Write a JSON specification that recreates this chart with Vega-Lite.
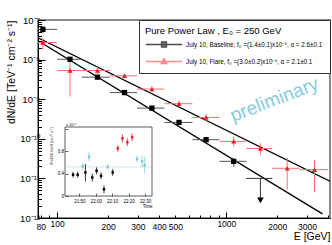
{
  "$schema": "https://vega.github.io/schema/vega-lite/v6.json",
  "width": 292,
  "height": 198,
  "autosize": {"type": "none"},
  "padding": {"left": 38, "top": 20, "right": 2, "bottom": 27},
  "background": "white",
  "config": {
    "view": {"stroke": "#8c8c8c", "strokeWidth": 2},
    "font": "Liberation Sans",
    "axis": {"grid": false, "labelColor": "black", "tickColor": "black", "domainColor": "black", "titleColor": "black", "titleFontWeight": "normal", "labelOverlap": false, "labelFlush": false},
    "legend": {"orient": "top-right", "offset": 0, "titleFontSize": 9.5, "titleFontWeight": "normal", "titleColor": "black", "labelFontSize": 6.3, "labelColor": "black", "symbolSize": 64, "symbolStrokeWidth": 1.5, "strokeColor": "#333333", "fillColor": "white", "padding": 6, "labelOffset": 31, "labelLimit": 400, "titlePadding": 4, "rowPadding": 5}
  },
  "datasets": {
    "fit": [
      {"k": "base", "E": 77, "F": 2.99e-8},
      {"k": "base", "E": 3700, "F": 1.27e-12},
      {"k": "flare", "E": 77, "F": 3.56e-8},
      {"k": "flare", "E": 4100, "F": 8.5e-12}
    ],
    "pts": [
      {"k": "base", "s": "July 10, Baseline, f₀ =(1.4±0.1)x10⁻⁹,  α = 2.6±0.1", "E": 82.3, "lo": 75, "hi": 100, "F": 5.8e-8, "Flo": 4.7e-8, "Fhi": 6.9e-8},
      {"k": "base", "s": "July 10, Baseline, f₀ =(1.4±0.1)x10⁻⁹,  α = 2.6±0.1", "E": 119, "lo": 100, "hi": 140, "F": 1.02e-8, "Flo": 0.92e-8, "Fhi": 1.12e-8},
      {"k": "base", "s": "July 10, Baseline, f₀ =(1.4±0.1)x10⁻⁹,  α = 2.6±0.1", "E": 173, "lo": 140, "hi": 205, "F": 3.6e-9, "Flo": 3.25e-9, "Fhi": 3.95e-9},
      {"k": "base", "s": "July 10, Baseline, f₀ =(1.4±0.1)x10⁻⁹,  α = 2.6±0.1", "E": 250, "lo": 205, "hi": 297, "F": 1.47e-9, "Flo": 1.36e-9, "Fhi": 1.58e-9},
      {"k": "base", "s": "July 10, Baseline, f₀ =(1.4±0.1)x10⁻⁹,  α = 2.6±0.1", "E": 363, "lo": 297, "hi": 430, "F": 5.96e-10, "Flo": 5.4e-10, "Fhi": 6.5e-10},
      {"k": "base", "s": "July 10, Baseline, f₀ =(1.4±0.1)x10⁻⁹,  α = 2.6±0.1", "E": 525, "lo": 430, "hi": 630, "F": 2.59e-10, "Flo": 2.3e-10, "Fhi": 2.9e-10},
      {"k": "base", "s": "July 10, Baseline, f₀ =(1.4±0.1)x10⁻⁹,  α = 2.6±0.1", "E": 759, "lo": 630, "hi": 910, "F": 9.5e-11, "Flo": 8.2e-11, "Fhi": 1.08e-10},
      {"k": "base", "s": "July 10, Baseline, f₀ =(1.4±0.1)x10⁻⁹,  α = 2.6±0.1", "E": 1105, "lo": 910, "hi": 1310, "F": 2.7e-11, "Flo": 1.95e-11, "Fhi": 3.2e-11},
      {"k": "flare", "s": "July 10, Flare,  f₀ =(3.0±0.2)x10⁻⁹,  α = 2.1±0.1", "E": 82.3, "lo": 75, "hi": 100, "F": 2.7e-8, "Flo": 1.75e-8, "Fhi": 3.6e-8},
      {"k": "flare", "s": "July 10, Flare,  f₀ =(3.0±0.2)x10⁻⁹,  α = 2.1±0.1", "E": 119, "lo": 100, "hi": 140, "F": 5.3e-9, "Flo": 1.17e-9, "Fhi": 8.9e-9},
      {"k": "flare", "s": "July 10, Flare,  f₀ =(3.0±0.2)x10⁻⁹,  α = 2.1±0.1", "E": 173, "lo": 140, "hi": 205, "F": 5.3e-9, "Flo": 4.3e-9, "Fhi": 6.5e-9},
      {"k": "flare", "s": "July 10, Flare,  f₀ =(3.0±0.2)x10⁻⁹,  α = 2.1±0.1", "E": 250, "lo": 205, "hi": 297, "F": 3.9e-9, "Flo": 3.4e-9, "Fhi": 4.4e-9},
      {"k": "flare", "s": "July 10, Flare,  f₀ =(3.0±0.2)x10⁻⁹,  α = 2.1±0.1", "E": 363, "lo": 297, "hi": 430, "F": 1.8e-9, "Flo": 1.5e-9, "Fhi": 2.15e-9},
      {"k": "flare", "s": "July 10, Flare,  f₀ =(3.0±0.2)x10⁻⁹,  α = 2.1±0.1", "E": 525, "lo": 430, "hi": 630, "F": 7.7e-10, "Flo": 6.4e-10, "Fhi": 9.2e-10},
      {"k": "flare", "s": "July 10, Flare,  f₀ =(3.0±0.2)x10⁻⁹,  α = 2.1±0.1", "E": 759, "lo": 630, "hi": 910, "F": 3.46e-10, "Flo": 2.8e-10, "Fhi": 4.3e-10},
      {"k": "flare", "s": "July 10, Flare,  f₀ =(3.0±0.2)x10⁻⁹,  α = 2.1±0.1", "E": 1105, "lo": 910, "hi": 1310, "F": 8.6e-11, "Flo": 6.4e-11, "Fhi": 1.13e-10},
      {"k": "flare", "s": "July 10, Flare,  f₀ =(3.0±0.2)x10⁻⁹,  α = 2.1±0.1", "E": 1590, "lo": 1310, "hi": 1870, "F": 5.7e-11, "Flo": 4.0e-11, "Fhi": 7.8e-11},
      {"k": "flare", "s": "July 10, Flare,  f₀ =(3.0±0.2)x10⁻⁹,  α = 2.1±0.1", "E": 2290, "lo": 1870, "hi": 2700, "F": 1.8e-11, "Flo": 5.2e-12, "Fhi": 3.3e-11},
      {"k": "flare", "s": "July 10, Flare,  f₀ =(3.0±0.2)x10⁻⁹,  α = 2.1±0.1", "E": 3320, "lo": 2700, "hi": 4000, "F": 1.66e-11, "Flo": 4.5e-12, "Fhi": 2.86e-11}
    ],
    "ul": [
      {"E": 1590, "lo": 1310, "hi": 1870, "F": 1e-11, "Fend": 3.2e-12, "Fhead": 2.8e-12}
    ],
    "inset": [
      {"g": "pre", "t": 46.2, "v": 0.38, "lo": 0.33, "hi": 0.43},
      {"g": "pre", "t": 49.0, "v": 0.38, "lo": 0.33, "hi": 0.43},
      {"g": "pre", "t": 53.7, "v": 0.42, "lo": 0.26, "hi": 0.57},
      {"g": "pre", "t": 57.9, "v": 0.33, "lo": 0.26, "hi": 0.40},
      {"g": "pre", "t": 60.5, "v": 0.45, "lo": 0.39, "hi": 0.51},
      {"g": "pre", "t": 63.2, "v": 0.36, "lo": 0.30, "hi": 0.42},
      {"g": "pre", "t": 65.0, "v": 0.12, "lo": 0.05, "hi": 0.19},
      {"g": "pre", "t": 70.3, "v": 0.42, "lo": 0.36, "hi": 0.48},
      {"g": "other", "t": 52.1, "v": 0.53, "lo": 0.47, "hi": 0.59},
      {"g": "other", "t": 55.9, "v": 0.70, "lo": 0.62, "hi": 0.78},
      {"g": "other", "t": 67.3, "v": 0.52, "lo": 0.47, "hi": 0.57},
      {"g": "other", "t": 85.1, "v": 0.66, "lo": 0.60, "hi": 0.72},
      {"g": "other", "t": 88.2, "v": 0.62, "lo": 0.52, "hi": 0.72},
      {"g": "other", "t": 89.8, "v": 0.55, "lo": 0.40, "hi": 0.70},
      {"g": "flare", "t": 73.4, "v": 0.85, "lo": 0.79, "hi": 0.91},
      {"g": "flare", "t": 76.2, "v": 1.03, "lo": 0.96, "hi": 1.10},
      {"g": "flare", "t": 79.2, "v": 0.96, "lo": 0.89, "hi": 1.03},
      {"g": "flare", "t": 82.1, "v": 1.05, "lo": 0.98, "hi": 1.12}
    ],
    "mean": [{"t0": 41.3, "t1": 94.2, "m": 0.52}]
  },
  "layer": [
    {
      "layer": [
        {
          "data": {"name": "fit"},
          "mark": {"type": "line", "strokeWidth": 1.3, "color": "black", "clip": true},
          "encoding": {
            "x": {"field": "E", "type": "quantitative", "scale": {"type": "log", "domain": [77, 4100], "nice": false},
              "axis": {"orient": "bottom", "values": [80, 90, 100, 200, 300, 400, 500, 600, 700, 800, 900, 1000, 2000, 3000, 4000],
                "labelExpr": "indexof([80,100,200,300,400,500,1000,2000,3000], datum.value) >= 0 ? format(datum.value, 'd') : ''",
                "tickSize": {"condition": {"test": "datum.value == 100 || datum.value == 1000", "value": -6}, "value": -3},
                "labelFontSize": 8.5, "labelPadding": 7, "title": "E [GeV]", "titleAnchor": "end", "titleFontSize": 10.5, "titlePadding": 1}},
            "y": {"field": "F", "type": "quantitative", "scale": {"type": "log", "domain": [1e-12, 1e-7], "nice": false},
              "axis": {"orient": "left",
                "values": [1e-12, 2e-12, 3e-12, 4e-12, 5e-12, 6e-12, 7e-12, 8e-12, 9e-12, 1e-11, 2e-11, 3e-11, 4e-11, 5e-11, 6e-11, 7e-11, 8e-11, 9e-11, 1e-10, 2e-10, 3e-10, 4e-10, 5e-10, 6e-10, 7e-10, 8e-10, 9e-10, 1e-9, 2e-9, 3e-9, 4e-9, 5e-9, 6e-9, 7e-9, 8e-9, 9e-9, 1e-8, 2e-8, 3e-8, 4e-8, 5e-8, 6e-8, 7e-8, 8e-8, 9e-8, 1e-7],
                "labelExpr": "datum.value == 1e-7 ? '10⁻⁷' : datum.value == 1e-8 ? '10⁻⁸' : datum.value == 1e-9 ? '10⁻⁹' : datum.value == 1e-10 ? '10⁻¹⁰' : datum.value == 1e-11 ? '10⁻¹¹' : datum.value == 1e-12 ? '10⁻¹²' : ''",
                "tickSize": {"condition": {"test": "indexof([1e-12,1e-11,1e-10,1e-9,1e-8,1e-7], datum.value) >= 0", "value": -7}, "value": -3.5},
                "labelFontSize": 9.5, "labelPadding": 5.5, "title": "dN/dE [TeV⁻¹ cm⁻² s⁻¹]", "titleAnchor": "end", "titleFontSize": 10.5, "titlePadding": 3}},
            "detail": {"field": "k", "type": "nominal"}
          }
        },
        {
          "data": {"name": "pts"},
          "mark": {"type": "rule", "strokeWidth": 1, "clip": true},
          "encoding": {
            "x": {"field": "lo", "type": "quantitative"},
            "x2": {"field": "hi"},
            "y": {"field": "F", "type": "quantitative"},
            "color": {"field": "k", "type": "nominal", "scale": {"domain": ["base", "flare"], "range": ["#555555", "#ff7070"]}, "legend": null}
          }
        },
        {
          "data": {"name": "pts"},
          "mark": {"type": "rule", "strokeWidth": 1, "clip": true},
          "encoding": {
            "x": {"field": "E", "type": "quantitative"},
            "y": {"field": "Flo", "type": "quantitative"},
            "y2": {"field": "Fhi"},
            "color": {"field": "k", "type": "nominal", "legend": null}
          }
        },
        {
          "data": {"name": "pts"},
          "transform": [{"filter": "datum.k == 'base'"}],
          "mark": {"type": "point", "shape": "square", "filled": true, "size": 28, "color": "black", "opacity": 1},
          "encoding": {"x": {"field": "E", "type": "quantitative"}, "y": {"field": "F", "type": "quantitative"}}
        },
        {
          "data": {"name": "pts"},
          "transform": [{"filter": "datum.k == 'flare'"}],
          "mark": {"type": "point", "shape": "triangle-up", "filled": true, "size": 26, "color": "#ee1c24", "opacity": 1},
          "encoding": {"x": {"field": "E", "type": "quantitative"}, "y": {"field": "F", "type": "quantitative"}}
        },
        {
          "data": {"name": "pts"},
          "transform": [{"filter": "false"}],
          "mark": {"type": "point", "filled": true},
          "encoding": {
            "x": {"field": "E", "type": "quantitative"},
            "y": {"field": "F", "type": "quantitative"},
            "shape": {"field": "s", "type": "nominal",
              "scale": {"domain": ["July 10, Baseline, f₀ =(1.4±0.1)x10⁻⁹,  α = 2.6±0.1", "July 10, Flare,  f₀ =(3.0±0.2)x10⁻⁹,  α = 2.1±0.1"], "range": ["M-1,0H8M2.9,-0.6H4.1V0.6H2.9Z", "M-1,0H8M3.5,-0.7L4.2,0.5H2.8Z"]},
              "legend": {"title": "Pure Power Law ,  E₀ = 250 GeV"}},
            "fill": {"field": "s", "type": "nominal",
              "scale": {"domain": ["July 10, Baseline, f₀ =(1.4±0.1)x10⁻⁹,  α = 2.6±0.1", "July 10, Flare,  f₀ =(3.0±0.2)x10⁻⁹,  α = 2.1±0.1"], "range": ["#000000", "#ee1c24"]},
              "legend": {"title": "Pure Power Law ,  E₀ = 250 GeV"}},
            "stroke": {"field": "s", "type": "nominal",
              "scale": {"domain": ["July 10, Baseline, f₀ =(1.4±0.1)x10⁻⁹,  α = 2.6±0.1", "July 10, Flare,  f₀ =(3.0±0.2)x10⁻⁹,  α = 2.1±0.1"], "range": ["#000000", "#ff5a5a"]},
              "legend": {"title": "Pure Power Law ,  E₀ = 250 GeV"}}
          }
        },
        {
          "data": {"name": "ul"},
          "mark": {"type": "rule", "color": "#333333", "strokeWidth": 1},
          "encoding": {"x": {"field": "lo", "type": "quantitative"}, "x2": {"field": "hi"}, "y": {"field": "F", "type": "quantitative"}}
        },
        {
          "data": {"name": "ul"},
          "mark": {"type": "rule", "color": "#333333", "strokeWidth": 1},
          "encoding": {"x": {"field": "E", "type": "quantitative"}, "y": {"field": "F", "type": "quantitative"}, "y2": {"field": "Fend"}}
        },
        {
          "data": {"name": "ul"},
          "mark": {"type": "point", "shape": "triangle-down", "filled": true, "color": "black", "size": 45, "opacity": 1},
          "encoding": {"x": {"field": "E", "type": "quantitative"}, "y": {"field": "Fhead", "type": "quantitative"}}
        },
        {
          "data": {"values": [{"label": "preliminary"}]},
          "mark": {"type": "text", "angle": -21, "fontSize": 19, "color": "#86cbd9", "align": "center", "baseline": "middle"},
          "encoding": {"x": {"datum": 1923, "type": "quantitative"}, "y": {"datum": 9.7e-10, "type": "quantitative"}, "text": {"field": "label"}}
        }
      ]
    },
    {
      "layer": [
        {
          "data": {"values": [{}]},
          "mark": {"type": "rect", "filled": false, "stroke": "#333333", "strokeWidth": 0.8},
          "encoding": {
            "x": {"datum": 41.3, "type": "quantitative", "scale": {"domain": [41.3, 94.2], "range": [27, 114], "zero": false, "nice": false},
              "axis": {"orient": "bottom", "offset": -22, "values": [50, 60, 70, 80, 90],
                "labelExpr": "datum.value == 50 ? '21:50' : datum.value == 60 ? '22:00' : datum.value == 70 ? '22:10' : datum.value == 80 ? '22:20' : '22:30'",
                "tickSize": -3,
                "labelOverlap": false, "tickWidth": 0.6, "domain": false, "labelFontSize": 4.5, "labelPadding": 5.5, "title": "Time", "titleFontSize": 4.5, "titleAnchor": "end", "titlePadding": 0.5}},
            "x2": {"datum": 94.2},
            "y": {"datum": 0, "type": "quantitative", "scale": {"domain": [0, 1.232], "range": [176, 107], "zero": false, "nice": false},
              "axis": {"orient": "left", "offset": -27, "values": [0, 0.1, 0.2, 0.3, 0.4, 0.5, 0.6, 0.7, 0.8, 0.9, 1.0, 1.1, 1.2],
                "labelExpr": "datum.value == 0 ? '0' : (datum.value < 1.1 && round(datum.value * 10) % 2 == 0 ? format(datum.value, '.1f') : '')",
                "tickSize": {"condition": {"test": "round(datum.value * 10) % 2 == 0", "value": -3}, "value": -1.5},
                "labelOverlap": false, "tickWidth": 0.6, "domain": false, "labelFontSize": 4.5, "labelPadding": 4.5, "title": "F>200 GeV [cm⁻² s⁻¹]", "titleFontSize": 4, "titleAnchor": "end", "titlePadding": 4}},
            "y2": {"datum": 1.232}
          }
        },
        {
          "data": {"name": "mean"},
          "mark": {"type": "rule", "color": "#7cc7d6", "strokeWidth": 0.7, "strokeDash": [1.5, 1]},
          "encoding": {"x": {"field": "t0", "type": "quantitative"}, "x2": {"field": "t1"}, "y": {"field": "m", "type": "quantitative"}}
        },
        {
          "data": {"name": "inset"},
          "mark": {"type": "rule", "strokeWidth": 0.8},
          "encoding": {
            "x": {"field": "t", "type": "quantitative"},
            "y": {"field": "lo", "type": "quantitative"},
            "y2": {"field": "hi"},
            "color": {"field": "g", "type": "nominal", "scale": {"domain": ["pre", "flare", "other"], "range": ["#000000", "#ee1c24", "#7cc7d6"]}, "legend": null}
          }
        },
        {
          "data": {"name": "inset"},
          "mark": {"type": "point", "shape": "square", "filled": true, "size": 6, "opacity": 1},
          "encoding": {
            "x": {"field": "t", "type": "quantitative"},
            "y": {"field": "v", "type": "quantitative"},
            "color": {"field": "g", "type": "nominal", "legend": null}
          }
        },
        {
          "data": {"values": [{"label": "x 10⁻⁹"}]},
          "mark": {"type": "text", "fontSize": 4, "align": "left", "baseline": "bottom", "dx": 1, "dy": -0.5, "color": "black"},
          "encoding": {"x": {"datum": 41.3, "type": "quantitative"}, "y": {"datum": 1.232, "type": "quantitative"}, "text": {"field": "label"}}
        }
      ]
    }
  ],
  "resolve": {"scale": {"x": "independent", "y": "independent", "color": "independent"}}
}
